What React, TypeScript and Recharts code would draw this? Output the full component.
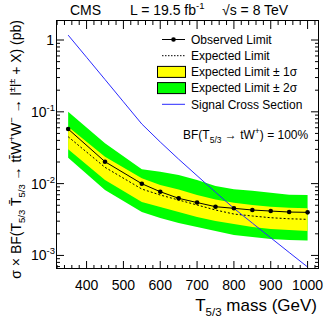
import React from 'react';
import { ComposedChart, Area, Line, XAxis, YAxis } from 'recharts';

const masses = [350, 450, 550, 600, 650, 700, 750, 800, 850, 900, 950, 1000];
const observed = [0.0576, 0.0202, 0.00997, 0.00771, 0.00624, 0.00545, 0.00477, 0.00453, 0.00429, 0.00415, 0.00402, 0.00398];
const expected = [0.045, 0.01686, 0.0084, 0.00694, 0.00591, 0.00504, 0.00429, 0.00377, 0.00354, 0.00335, 0.00324, 0.00318];
const oneSigmaLow = [0.030, 0.01122, 0.00554, 0.00472, 0.00402, 0.00343, 0.00301, 0.00274, 0.00249, 0.00233, 0.00226, 0.00219];
const oneSigmaHigh = [0.062, 0.0237, 0.01185, 0.00956, 0.00827, 0.00694, 0.006, 0.00542, 0.00504, 0.00477, 0.00462, 0.00453];
const twoSigmaLow = [0.0229, 0.00815, 0.00402, 0.00332, 0.00283, 0.00249, 0.00219, 0.00192, 0.0018, 0.00169, 0.00164, 0.00161];
const twoSigmaHigh = [0.1003, 0.0364, 0.0158, 0.01464, 0.01318, 0.01122, 0.00926, 0.00833, 0.00796, 0.00747, 0.007, 0.00694];

const signalMasses = [350, 400, 450, 500, 550, 600, 650, 700, 750, 800, 850, 900, 950, 1000];
const signalXsec = [1.17, 0.575, 0.282, 0.138, 0.0676, 0.038, 0.0219, 0.0129, 0.0076, 0.00453, 0.00282, 0.00176, 0.0011, 0.00069];

const xMajorTicks = [400, 500, 600, 700, 800, 900, 1000];
const xTicks = [320, 340, 360, 380, 400, 420, 440, 460, 480, 500, 520, 540, 560, 580, 600, 620, 640, 660, 680, 700, 720, 740, 760, 780, 800, 820, 840, 860, 880, 900, 920, 940, 960, 980, 1000, 1020];
const yMajorTicks = [0.001, 0.01, 0.1, 1];
const yMajorExp = ['-3', '-2', '-1', ''];
const yTicks = [
  0.0007, 0.0008, 0.0009,
  0.001, 0.002, 0.003, 0.004, 0.005, 0.006, 0.007, 0.008, 0.009,
  0.01, 0.02, 0.03, 0.04, 0.05, 0.06, 0.07, 0.08, 0.09,
  0.1, 0.2, 0.3, 0.4, 0.5, 0.6, 0.7, 0.8, 0.9,
  1,
];

const data = masses.map((m, i) => ({
  mass: m,
  obs: observed[i],
  exp: expected[i],
  one: [oneSigmaLow[i], oneSigmaHigh[i]],
  two: [twoSigmaLow[i], twoSigmaHigh[i]],
}));
const signalData = signalMasses.map((m, i) => ({ mass: m, sig: signalXsec[i] }));

const W = 333;
const H = 320;
const PL = 56;
const PT = 21;
const PR = 319;
const PB = 269;
const PW = PR - PL;
const PH = PB - PT;
const M = { top: PT, right: W - PR, bottom: H - PB - 1, left: PL - 1 };
const FONT = '"Liberation Sans", Arial, Helvetica, sans-serif';

const BottomTick = (props: any) => {
  const { x, payload } = props;
  const v = payload.value;
  const major = xMajorTicks.includes(v);
  const len = major ? 8 : 4;
  return (
    <g>
      <line x1={x} x2={x} y1={PB} y2={PB - len} stroke="#000" strokeWidth={1} />
      <line x1={x} x2={x} y1={PT} y2={PT + len} stroke="#000" strokeWidth={1} />
      {major && (
        <text x={x} y={290} textAnchor="middle" fontSize={14} fontFamily={FONT} fill="#000">
          {String(v)}
        </text>
      )}
    </g>
  );
};

const LeftTick = (props: any) => {
  const { y, payload } = props;
  const v = payload.value;
  const idx = yMajorTicks.indexOf(v);
  const major = idx >= 0;
  const len = major ? 8 : 4;
  return (
    <g>
      <line x1={PL} x2={PL + len} y1={y} y2={y} stroke="#000" strokeWidth={1} />
      <line x1={PR} x2={PR - len} y1={y} y2={y} stroke="#000" strokeWidth={1} />
      {major && (
        yMajorExp[idx] === '' ? (
          <text x={54} y={y + 5} textAnchor="end" fontSize={14} fontFamily={FONT} fill="#000">1</text>
        ) : (
          <text x={55} y={y + 5} textAnchor="end" fontSize={14} fontFamily={FONT} fill="#000">
            <tspan>10</tspan>
            <tspan dy={-6} fontSize={9.5}>{yMajorExp[idx]}</tspan>
          </text>
        )
      )}
    </g>
  );
};

const legendRows = [
  { label: 'Observed Limit', kind: 'obs' },
  { label: 'Expected Limit', kind: 'exp' },
  { label: 'Expected Limit \u00b1 1\u03c3', kind: 'one' },
  { label: 'Expected Limit \u00b1 2\u03c3', kind: 'two' },
  { label: 'Signal Cross Section', kind: 'sig' },
];

export default function App() {
  return (
    <div style={{ position: 'absolute', left: 0, top: 0, width: W, height: H, background: '#fff' }}>
      <ComposedChart width={W} height={H} data={data} margin={M}>
        <XAxis
          dataKey="mass"
          type="number"
          domain={[317, 1031]}
          allowDataOverflow
          ticks={xTicks}
          interval={0}
          height={1}
          tickSize={0}
          tickMargin={0}
          tickLine={false}
          axisLine={false}
          tick={(p: any) => <BottomTick {...p} />}
        />
        <YAxis
          type="number"
          scale="log"
          domain={[0.000647, 1.84]}
          allowDataOverflow
          ticks={yTicks}
          interval={0}
          width={1}
          tickSize={0}
          tickMargin={0}
          tickLine={false}
          axisLine={false}
          tick={(p: any) => <LeftTick {...p} />}
        />
        <Area dataKey="two" type="linear" fill="#00ff00" fillOpacity={1} stroke="none" isAnimationActive={false} />
        <Area dataKey="one" type="linear" fill="#ffff00" fillOpacity={1} stroke="none" isAnimationActive={false} />
        <Line dataKey="exp" type="linear" stroke="#000" strokeWidth={1} strokeDasharray="2 2" dot={false} isAnimationActive={false} />
        <Line dataKey="obs" type="linear" stroke="#000" strokeWidth={1} dot={{ r: 2.3, fill: '#000', stroke: 'none' }} isAnimationActive={false} />
        <Line data={signalData} dataKey="sig" type="linear" stroke="#2a2aff" strokeWidth={1} dot={false} isAnimationActive={false} />
      </ComposedChart>
      <svg width={W} height={H} style={{ position: 'absolute', left: 0, top: 0, pointerEvents: 'none' }}>
        <rect x={PL + 0.5} y={PT - 0.5} width={PW - 1} height={PH} fill="none" stroke="#000" strokeWidth={1} />
        <text x={70} y={15} fontSize={14} fontFamily={FONT} fill="#000">CMS</text>
        <text x={130} y={15} fontSize={14} fontFamily={FONT} fill="#000">
          <tspan>L = 19.5 fb</tspan>
          <tspan dy={-6} fontSize={9.5}>-1</tspan>
        </text>
        <text x={222} y={15} fontSize={14} fontFamily={FONT} fill="#000">{'\u221as = 8 TeV'}</text>
        {legendRows.map((r, i) => {
          const cy = 39.5 + i * 16.2;
          return (
            <g key={r.label}>
              {r.kind === 'obs' && (
                <g>
                  <line x1={162} x2={185} y1={cy} y2={cy} stroke="#000" strokeWidth={1} />
                  <circle cx={173.5} cy={cy} r={2.3} fill="#000" />
                </g>
              )}
              {r.kind === 'exp' && <line x1={162} x2={185} y1={cy} y2={cy} stroke="#000" strokeWidth={1} strokeDasharray="1.5 1.5" />}
              {r.kind === 'one' && <rect x={157.5} y={cy - 5.5} width={28} height={11} fill="#ffff00" stroke="#000" strokeWidth={1} />}
              {r.kind === 'two' && <rect x={157.5} y={cy - 5.5} width={28} height={11} fill="#00ff00" stroke="#000" strokeWidth={1} />}
              {r.kind === 'sig' && <line x1={162} x2={185} y1={cy} y2={cy} stroke="#2a2aff" strokeWidth={1} />}
              <text x={191} y={cy + 4.3} fontSize={12} fontFamily={FONT} fill="#000">{r.label}</text>
            </g>
          );
        })}
        <text x={183} y={138.5} fontSize={12} fontFamily={FONT} fill="#000">
          <tspan>BF(T</tspan>
          <tspan dy={4} fontSize={8.5}>5/3</tspan>
          <tspan dy={-4}>{' \u2192 tW'}</tspan>
          <tspan dy={-5} fontSize={8.5}>+</tspan>
          <tspan dy={5}>{') = 100%'}</tspan>
        </text>
        <text x={317} y={311} textAnchor="end" fontSize={17} fontFamily={FONT} fill="#000">
          <tspan>T</tspan>
          <tspan dy={5} fontSize={11.5}>5/3</tspan>
          <tspan dy={-5}>{' mass (GeV)'}</tspan>
        </text>
        <text transform="translate(21,20) rotate(-90)" textAnchor="end" fontSize={14} fontFamily={FONT} fill="#000">
          <tspan>{'\u03c3 \u00d7 BF(T'}</tspan>
          <tspan dy={4} fontSize={9.5}>5/3</tspan>
          <tspan dy={-4}>{' T\u0304'}</tspan>
          <tspan dy={4} fontSize={9.5}>5/3</tspan>
          <tspan dy={-4}>{' \u2192 tt\u0304W'}</tspan>
          <tspan dy={-6} fontSize={9.5}>+</tspan>
          <tspan dy={6}>W</tspan>
          <tspan dy={-6} fontSize={9.5}>{'\u2212'}</tspan>
          <tspan dy={6}>{' \u2192 l'}</tspan>
          <tspan dy={-6} fontSize={9.5}>{'\u00b1'}</tspan>
          <tspan dy={6}>l</tspan>
          <tspan dy={-6} fontSize={9.5}>{'\u00b1'}</tspan>
          <tspan dy={6}>{' + X) (pb)'}</tspan>
        </text>
      </svg>
    </div>
  );
}
